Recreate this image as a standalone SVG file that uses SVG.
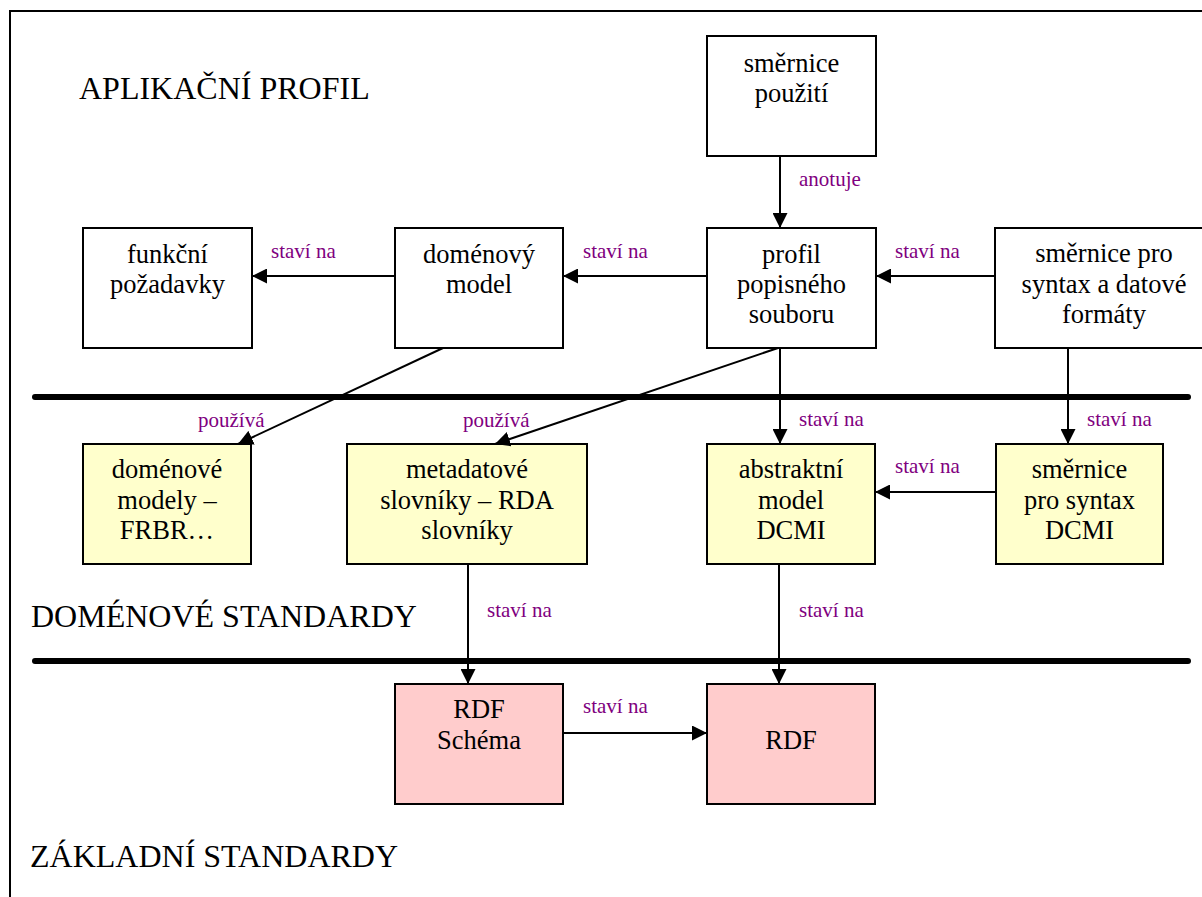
<svg xmlns="http://www.w3.org/2000/svg" width="1202" height="897" viewBox="0 0 1202 897">
<style>
.box{fill:#fff;stroke:#000;stroke-width:2}
.yel{fill:#ffffcc;stroke:#000;stroke-width:2}
.pink{fill:#ffcccc;stroke:#000;stroke-width:2}
.t{font-family:"Liberation Serif","Times New Roman",serif;font-size:26.5px;fill:#000;text-anchor:middle}
.sec{font-family:"Liberation Serif","Times New Roman",serif;font-size:32px;fill:#000}
.lbl{font-family:"Liberation Serif","Times New Roman",serif;font-size:21px;fill:#800080}
.c{stroke:#000;stroke-width:2;fill:none;marker-end:url(#ah)}
.bar{stroke:#000;stroke-width:6;stroke-linecap:round}
</style>
<defs>
<marker id="ah" markerUnits="userSpaceOnUse" markerWidth="15" markerHeight="15" refX="15" refY="7.5" orient="auto">
<path d="M0,0 L15,7.5 L0,15 z" fill="#000"/>
</marker>
</defs>
<rect width="1202" height="897" fill="#fff"/>
<rect x="10" y="11" width="1210" height="900" fill="none" stroke="#000" stroke-width="2"/>
<g id="sections">
<text class="sec" x="79" y="99">APLIKAČNÍ PROFIL</text>
<text class="sec" x="31" y="627">DOMÉNOVÉ STANDARDY</text>
<text class="sec" x="30" y="867">ZÁKLADNÍ STANDARDY</text>
<line class="bar" x1="35" y1="397" x2="1188" y2="397"/>
<line class="bar" x1="35" y1="661" x2="1188" y2="661"/>
</g>
<g id="n-smernice-pouziti">
<rect class="box" x="707" y="36" width="169" height="120"/>
<text class="t" x="791.5" y="72">směrnice</text>
<text class="t" x="791.5" y="102">použití</text>
</g>
<g id="n-funkcni">
<rect class="box" x="83" y="228" width="169" height="120"/>
<text class="t" x="167.5" y="263">funkční</text>
<text class="t" x="167.5" y="293">požadavky</text>
</g>
<g id="n-domenovy-model">
<rect class="box" x="395" y="228" width="168" height="120"/>
<text class="t" x="479" y="263">doménový</text>
<text class="t" x="479" y="293">model</text>
</g>
<g id="n-profil">
<rect class="box" x="707" y="228" width="169" height="120"/>
<text class="t" x="791.5" y="263">profil</text>
<text class="t" x="791.5" y="293">popisného</text>
<text class="t" x="791.5" y="323">souboru</text>
</g>
<g id="n-smernice-syntax">
<rect class="box" x="995" y="228" width="218" height="120"/>
<text class="t" x="1104" y="262">směrnice pro</text>
<text class="t" x="1104" y="293">syntax a datové</text>
<text class="t" x="1104" y="323">formáty</text>
</g>
<g id="n-domenove-modely">
<rect class="yel" x="83" y="444" width="168" height="120"/>
<text class="t" x="167" y="478">doménové</text>
<text class="t" x="167" y="509">modely –</text>
<text class="t" x="167" y="539">FRBR…</text>
</g>
<g id="n-metadatove">
<rect class="yel" x="347" y="444" width="240" height="120"/>
<text class="t" x="467" y="478">metadatové</text>
<text class="t" x="467" y="509">slovníky – RDA</text>
<text class="t" x="467" y="539">slovníky</text>
</g>
<g id="n-abstraktni">
<rect class="yel" x="707" y="444" width="168" height="120"/>
<text class="t" x="791" y="478">abstraktní</text>
<text class="t" x="791" y="509">model</text>
<text class="t" x="791" y="539">DCMI</text>
</g>
<g id="n-smernice-dcmi">
<rect class="yel" x="996" y="444" width="167" height="120"/>
<text class="t" x="1079.5" y="478">směrnice</text>
<text class="t" x="1079.5" y="509">pro syntax</text>
<text class="t" x="1079.5" y="539">DCMI</text>
</g>
<g id="n-rdf-schema">
<rect class="pink" x="395" y="684" width="168" height="120"/>
<text class="t" x="479" y="718">RDF</text>
<text class="t" x="479" y="749">Schéma</text>
</g>
<g id="n-rdf">
<rect class="pink" x="707" y="684" width="168" height="120"/>
<text class="t" x="791" y="749">RDF</text>
</g>
<g id="connectors">
<line class="c" x1="780" y1="156" x2="780" y2="228"/>
<line class="c" x1="395" y1="276" x2="252" y2="276"/>
<line class="c" x1="707" y1="276" x2="563" y2="276"/>
<line class="c" x1="995" y1="276" x2="876" y2="276"/>
<line class="c" x1="443" y1="348" x2="238" y2="444"/>
<line class="c" x1="778" y1="348" x2="495" y2="444"/>
<line class="c" x1="780" y1="348" x2="780" y2="444"/>
<line class="c" x1="1068" y1="348" x2="1068" y2="444"/>
<line class="c" x1="996" y1="492" x2="875" y2="492"/>
<line class="c" x1="468" y1="564" x2="468" y2="684"/>
<line class="c" x1="779" y1="564" x2="779" y2="684"/>
<line class="c" x1="563" y1="733" x2="707" y2="733"/>
<text class="lbl" x="799" y="186">anotuje</text>
<text class="lbl" x="271" y="258">staví na</text>
<text class="lbl" x="583" y="258">staví na</text>
<text class="lbl" x="895" y="258">staví na</text>
<text class="lbl" x="198" y="427">používá</text>
<text class="lbl" x="463" y="427">používá</text>
<text class="lbl" x="799" y="426">staví na</text>
<text class="lbl" x="1087" y="426">staví na</text>
<text class="lbl" x="895" y="473">staví na</text>
<text class="lbl" x="487" y="617">staví na</text>
<text class="lbl" x="799" y="617">staví na</text>
<text class="lbl" x="583" y="713">staví na</text>
</g>
</svg>
